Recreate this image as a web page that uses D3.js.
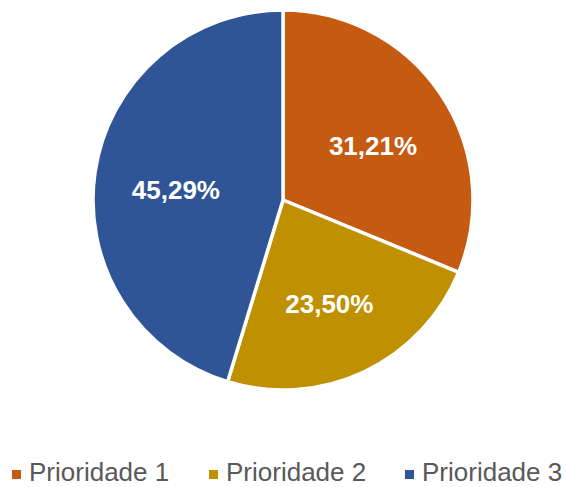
<html>
 <head>
  <script src="https://d3js.org/d3.v7.min.js"></script>
  <style>body{margin:0;background:#fff}</style>
 </head>
 <body>
  <svg></svg>
  <script>
    var width = 566, height = 487;
    var categories = ["Prioridade 1", "Prioridade 2", "Prioridade 3"];
    var values = [31.21, 23.50, 45.29];
    var labels = ["31,21%", "23,50%", "45,29%"];
    var colors = d3.scaleOrdinal().domain(categories).range(["#C55A11", "#BF9000", "#2F5597"]);

    var svg = d3.select("svg").attr("width", width).attr("height", height);

    var pie = d3.pie().sort(null).value(function(d){ return d; });
    var arcs = pie(values);
    var radius = 190;
    var arc = d3.arc().innerRadius(0).outerRadius(radius);
    var labelArc = d3.arc().innerRadius(radius * 0.57).outerRadius(radius * 0.57);

    var g = svg.append("g").attr("transform", "translate(283,200)");
    g.selectAll("path").data(arcs).enter().append("path")
      .attr("d", arc)
      .attr("fill", function(d, i){ return colors(categories[i]); })
      .attr("stroke", "#fff")
      .attr("stroke-width", 3.5)
      .attr("stroke-linejoin", "round");

    g.selectAll("text").data(arcs).enter().append("text")
      .attr("transform", function(d){ var c = labelArc.centroid(d); return "translate(" + c[0] + "," + (c[1] + 6) + ")"; })
      .attr("text-anchor", "middle")
      .attr("dy", "0.36em")
      .attr("fill", "#fff")
      .attr("font-family", "Liberation Sans, Arial, sans-serif")
      .attr("font-weight", "bold")
      .attr("font-size", 26)
      .text(function(d, i){ return labels[i]; });

    var legendX = [12, 209, 405];
    var legend = svg.append("g").selectAll("g").data(categories).enter().append("g")
      .attr("transform", function(d, i){ return "translate(" + legendX[i] + ",470)"; });
    legend.append("rect").attr("width", 9).attr("height", 9)
      .attr("fill", function(d){ return colors(d); });
    legend.append("text")
      .attr("x", 17).attr("y", 11)
      .attr("fill", "#595959")
      .attr("font-family", "Liberation Sans, Arial, sans-serif")
      .attr("font-size", 26)
      .text(function(d){ return d; });
  </script>
 </body>
</html>
